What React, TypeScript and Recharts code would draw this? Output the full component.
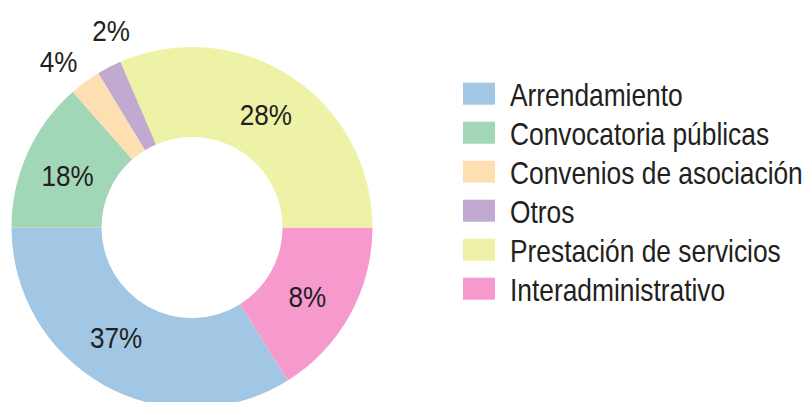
import { PieChart, Pie, Cell } from "recharts";
import type { PieLabelRenderProps } from "recharts";

// slices in drawing order, starting at 9 o'clock and going down
const categories = [
  "Arrendamiento",
  "Interadministrativo",
  "Prestación de servicios",
  "Otros",
  "Convenios de asociación",
  "Convocatoria públicas",
];
const shares = [33.9, 16.1, 31.5, 2.2, 2.8, 13.5];
const shareLabels = ["37%", "8%", "28%", "2%", "4%", "18%"];
const colors = ["#a2c7e4", "#f69ace", "#eef2a7", "#c1a9d1", "#fddfb2", "#a1d6b6"];

// legend order as printed
const legendOrder = [
  "Arrendamiento",
  "Convocatoria públicas",
  "Convenios de asociación",
  "Otros",
  "Prestación de servicios",
  "Interadministrativo",
];

// small angle tweaks (degrees) so labels sit where the original put them
const labelNudge = [-5.4, -2, 0, -5, 2.5, 2];

const FONT = '"Liberation Sans", Arial, sans-serif';
const TEXT = "#231f20";

const data = categories.map((name, i) => ({ name, value: shares[i] }));

const RAD = Math.PI / 180;

const renderLabel = (props: PieLabelRenderProps) => {
  const { cx = 0, cy = 0, midAngle = 0, innerRadius = 0, outerRadius = 0, index = 0 } = props as any;
  const small = shares[index] < 5; // tiny slices get their label outside
  const r = small ? Number(outerRadius) + 32 : (Number(innerRadius) + Number(outerRadius)) / 2 - 1;
  const a = midAngle + labelNudge[index];
  const x = Number(cx) + r * Math.cos(-a * RAD);
  const y = Number(cy) + r * Math.sin(-a * RAD);
  return (
    <text
      transform={`translate(${x},${y}) scale(0.9,1)`}
      fill={TEXT}
      textAnchor="middle"
      dominantBaseline="central"
      fontFamily={FONT}
      fontSize={29}
    >
      {shareLabels[index]}
    </text>
  );
};

export default function App() {
  return (
    <div style={{ position: "absolute", left: 0, top: 0, width: 803, height: 402, background: "#fff", overflow: "hidden" }}>
      <PieChart width={803} height={402}>
        <Pie
          data={data}
          dataKey="value"
          nameKey="name"
          cx={187}
          cy={222.5}
          innerRadius={90.5}
          outerRadius={180.5}
          startAngle={180}
          endAngle={540}
          stroke="none"
          label={renderLabel}
          labelLine={false}
          isAnimationActive={false}
        >
          {data.map((d, i) => (
            <Cell key={d.name} fill={colors[i]} />
          ))}
        </Pie>
      </PieChart>

      {/* legend */}
      <svg width={803} height={402} style={{ position: "absolute", left: 0, top: 0 }}>
        {legendOrder.map((name, i) => {
          const y = 82.7 + i * 39;
          return (
            <g key={name}>
              <rect x={463} y={y} width={32} height={22} fill={colors[categories.indexOf(name)]} />
              <text
                transform={`translate(510,${y + 23.5}) scale(0.85,1)`}
                fill={TEXT}
                fontFamily={FONT}
                fontSize={31}
              >
                {name}
              </text>
            </g>
          );
        })}
      </svg>
    </div>
  );
}
